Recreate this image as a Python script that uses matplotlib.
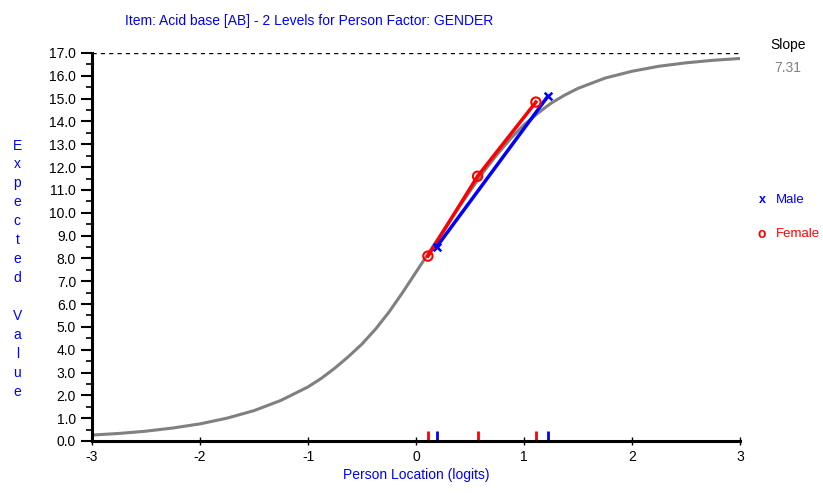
import numpy as np
import matplotlib.pyplot as plt
from matplotlib.ticker import MultipleLocator

plt.rcParams['font.family'] = ['Liberation Sans', 'DejaVu Sans']
plt.rcParams['axes.unicode_minus'] = False

# expected value curve
curve_x = [-3, -2.75, -2.5, -2.25, -2, -1.75, -1.5, -1.25, -1, -0.875, -0.75, -0.625,
           -0.5, -0.375, -0.25, -0.125, 0, 0.125, 0.25, 0.375, 0.5, 0.625, 0.75, 0.875,
           1.0, 1.125, 1.25, 1.375, 1.5, 1.75, 2.0, 2.25, 2.5, 2.75, 3.0]
curve_y = [0.26, 0.33, 0.43, 0.57, 0.75, 1.0, 1.33, 1.78, 2.37, 2.75, 3.2, 3.7,
           4.25, 4.9, 5.65, 6.5, 7.4, 8.3, 9.2, 10.1, 10.95, 11.8, 12.55, 13.25,
           13.85, 14.35, 14.8, 15.15, 15.45, 15.9, 16.2, 16.42, 16.57, 16.68, 16.76]

# group means
male_x = [0.19, 1.22]
male_y = [8.5, 15.1]
female_x = [0.11, 0.57, 1.11]
female_y = [8.1, 11.6, 14.85]

max_score = 17.0
slope = 7.31

fig = plt.figure(figsize=(8.23, 4.93), dpi=100)
ax = fig.add_axes([0.1118, 0.1055, 0.7874, 0.787])

ax.axhline(max_score, color='black', ls=(0, (3, 3)), lw=1)
ax.plot(curve_x, curve_y, color='#808080', lw=2.2)
ax.plot(female_x, female_y, color='red', lw=2.5)
ax.plot(male_x, male_y, color='blue', lw=2.5)
ax.scatter(female_x, female_y, marker='o', s=45, facecolors='none', edgecolors='red', lw=1.5, zorder=3)
ax.scatter(male_x, male_y, marker='x', s=30, color='blue', lw=1.8, zorder=3)

# location marks on the x axis
ax.vlines(female_x, 0, 0.45, color='red', lw=2)
ax.vlines(male_x, 0, 0.45, color='blue', lw=2)

ax.set_xlim(-3, 3)
ax.set_ylim(0, 17)
ax.set_xticks(range(-3, 4))
ax.yaxis.set_major_locator(MultipleLocator(1))
ax.yaxis.set_minor_locator(MultipleLocator(0.5))
ax.yaxis.set_major_formatter('{x:.1f}')
ax.tick_params(axis='y', which='major', length=8, width=1.5, direction='out', labelsize=10)
ax.tick_params(axis='y', which='minor', length=4, width=1.2, direction='out')
ax.tick_params(axis='x', length=6, width=1, direction='inout', labelsize=10)

for s in ['top', 'right']:
    ax.spines[s].set_visible(False)
ax.spines['left'].set_linewidth(2.2)
ax.spines['bottom'].set_linewidth(2.2)

ax.set_xlabel('Person Location (logits)', color='blue', fontsize=10, labelpad=3)
fig.text(0.021, 0.455, '\n'.join('Expected Value'), color='blue', fontsize=10,
         ha='center', va='center', linespacing=1.45)
fig.text(0.376, 0.957, 'Item: Acid base [AB] - 2 Levels for Person Factor: GENDER',
         color='blue', fontsize=10, ha='center', va='center')

fig.text(0.957, 0.908, 'Slope', color='black', fontsize=10, ha='center', va='center')
fig.text(0.957, 0.862, f'{slope:.2f}', color='#808080', fontsize=10, ha='center', va='center')

fig.text(0.926, 0.594, 'x', color='blue', fontsize=9, fontweight='bold', ha='center', va='center')
fig.text(0.943, 0.594, 'Male', color='blue', fontsize=9.5, ha='left', va='center')
fig.text(0.926, 0.526, 'o', color='red', fontsize=10, fontweight='bold', ha='center', va='center')
fig.text(0.943, 0.526, 'Female', color='red', fontsize=9.5, ha='left', va='center')

fig.savefig('out.png', dpi=100)
